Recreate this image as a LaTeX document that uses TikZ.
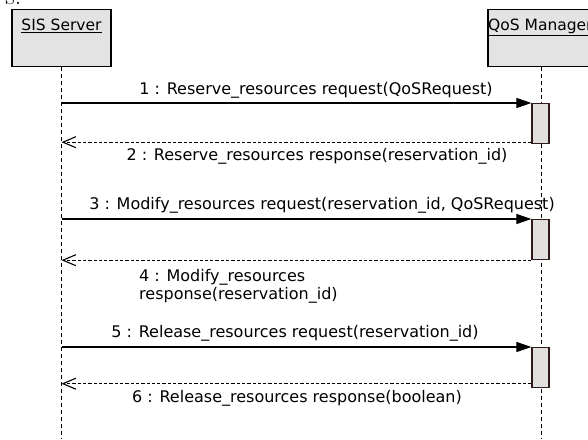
\documentclass[tikz,border=0pt]{standalone}
\usepackage{fontspec}
\newfontfamily\umlfont{DejaVu Sans}
\usepackage{xcolor}
\usetikzlibrary{arrows.meta, positioning}

\definecolor{headfill}{RGB}{227,227,227}
\definecolor{actfill}{RGB}{226,224,223}
\definecolor{actline}{RGB}{48,26,26}

\tikzset{
    head/.style={draw, line width=1.2pt, fill=headfill, minimum height=57pt, inner sep=0pt, anchor=south},
    headname/.style={font=\umlfont\fontsize{15.5}{18}\selectfont, inner sep=0pt, anchor=base},
    lifeline/.style={line width=1.3pt, dash pattern=on 4pt off 3pt},
    activation/.style={draw=actline, line width=1.2pt, fill=actfill, minimum width=17pt, inner sep=0pt, anchor=north},
    call/.style={line width=1.1pt, -{Triangle[length=15pt, width=10pt]}},
    reply/.style={line width=1.1pt, dash pattern=on 3.3pt off 2pt, -{Straight Barb[length=13pt, width=11pt, line width=1.1pt]}},
    msg/.style={font=\umlfont\fontsize{16}{18}\selectfont, inner sep=0pt}
}

\begin{document}
\begin{tikzpicture}[x=1pt, y=-1pt]
    \useasboundingbox (0,0) rectangle (588,439);
    \clip (0,0) rectangle (588,439);

    % end of the caption line above
    \node[anchor=base east, inner sep=0pt, font=\fontsize{26}{28}\selectfont] (capfrag) at (21.5,4.5) {s.};

    % participants
    \node[head, minimum width=99pt] (sis) at (61.5,67) {};
    \node[headname] (sisname) at (61.5,30.5) {\underline{SIS Server}};

    \node[head, minimum width=107.4pt] (qos) at (541.7,67) {};
    \node[headname, anchor=base west] (qosname) at (488,30.5) {\underline{QoS Manager}};

    \draw[lifeline] (sis.south) -- (sis.south |- 0,439);
    \draw[lifeline] (qos.south) -- (qos.south |- 0,439);

    % activations on the manager
    \node[activation, minimum height=39.5pt] (act1) at (540.5,103) {};
    \node[activation, minimum height=40pt] (act2) at (540.5,219) {};
    \node[activation, minimum height=40pt] (act3) at (540.5,347) {};

    % reserve
    \draw[call] (sis.south |- act1.north) -- (act1.north west);
    \node[msg] (m1) at (316,90) {1 : Reserve\_resources request(QoSRequest)};
    \draw[reply] ([yshift=1.5pt]act1.south west) -- ([yshift=1.5pt]sis.south |- act1.south);
    \node[msg] (m2) at (317,156) {2 : Reserve\_resources response(reservation\_id)};

    % modify
    \draw[call] (sis.south |- act2.north) -- (act2.north west);
    \node[msg] (m3) at (322,205) {3 : Modify\_resources request(reservation\_id, QoSRequest)};
    \draw[reply] (act2.south west) -- (sis.south |- act2.south);
    \node[msg, align=left, anchor=west] (m4) at (139,286) {4 : Modify\_resources\\response(reservation\_id)};

    % release
    \draw[call] (sis.south |- act3.north) -- (act3.north west);
    \node[msg] (m5) at (295,333) {5 : Release\_resources request(reservation\_id)};
    \draw[reply] ([yshift=4.5pt]act3.south west) -- ([yshift=4.5pt]sis.south |- act3.south);
    \node[msg] (m6) at (297,398) {6 : Release\_resources response(boolean)};
\end{tikzpicture}
\end{document}
